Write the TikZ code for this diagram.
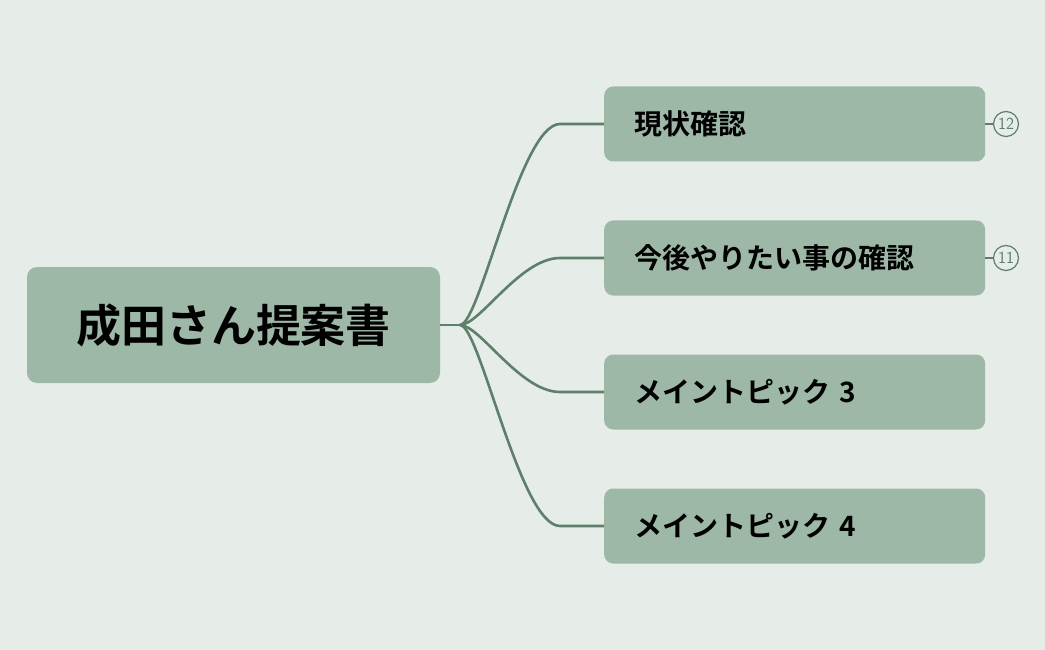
\documentclass[tikz,border=0pt]{standalone}
\usepackage{fontspec}
\newfontfamily\cjk{Noto Sans CJK JP Bold}
\definecolor{bg}{HTML}{E6ECE8}
\definecolor{box}{HTML}{9DB8A6}
\definecolor{ln}{HTML}{5E7F6A}
\begin{document}
\begin{tikzpicture}[x=1pt,y=-1pt,
  child/.style={fill=box,rounded corners=9pt,minimum width=381pt,minimum height=75pt,anchor=west,text width=321pt,inner xsep=30pt,align=left,font=\cjk\fontsize{28}{32}\selectfont},
  link/.style={draw=ln,line width=2.6pt},
  badge/.style={circle,draw=ln,line width=1.2pt,minimum size=25pt,inner sep=0pt,text=ln,font=\sffamily\fontsize{17}{17}\selectfont}]
\fill[bg] (0,0) rectangle (1045,650);
\node[fill=box,rounded corners=10pt,minimum width=413pt,minimum height=116pt,font=\cjk\fontsize{45}{50}\selectfont] (root) at (233.5,325) {成田さん提案書};
\coordinate (hub) at (460,325);
\node[child] (c1) at (604,124) {現状確認};
\node[child] (c2) at (604,258) {今後やりたい事の確認};
\node[child] (c3) at (604,392) {メイントピック 3};
\node[child] (c4) at (604,526) {メイントピック 4};
\draw[link] (root.east) -- (hub);
\foreach \c/\y in {c1/124,c2/258,c3/392,c4/526}{
  \coordinate (k\c) at (560,\y);
  \draw[link,line join=round] (hub) .. controls (480,325) and (520,\y) .. (k\c) -- (\c.west);
}
\node[badge] (b1) at (1006,124) {12};
\node[badge] (b2) at (1006,258) {11};
\draw[link] (c1.east) -- (b1.west);
\draw[link] (c2.east) -- (b2.west);
\end{tikzpicture}
\end{document}
